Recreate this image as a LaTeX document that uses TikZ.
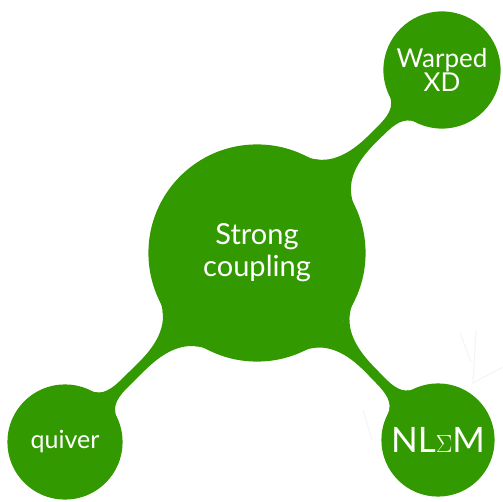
\documentclass[tikz,border=0pt]{standalone}
\usepackage{fontspec}
\setmainfont{Lato}
\usetikzlibrary{mindmap}
\definecolor{mmgreen}{RGB}{51,153,0}
\begin{document}
\begin{tikzpicture}[x=1pt,y=-1pt,mindmap,
  cnode/.style={concept, concept color=mmgreen, text=white, inner sep=0pt, align=center, text width=},
  faint/.style={draw=gray!8, line width=1.2pt},
  bar/.style={line width=9pt, circle connection bar switch color=from (mmgreen) to (mmgreen)}]
\useasboundingbox (0,0) rectangle (503,502);
% faint background strokes
\draw[faint] (476,330) -- (473,383) -- (503,367);
\draw[faint] (460,333) -- (471,362);
\draw[faint] (363,410) -- (372,440);
% concepts
\node[cnode, minimum size=216pt, font=\fontsize{29}{32}\selectfont] (main) at (257,253) {Strong\\coupling};
\node[cnode, minimum size=116pt, font=\fontsize{26}{23}\selectfont] (warp) at (442,70) {Warped\\XD};
\node[cnode, minimum size=114pt, font=\fontsize{25}{24}\selectfont] (quiv) at (65,442) {quiver};
\node[cnode, minimum size=112pt, font=\fontsize{35}{32}\selectfont] (nlsm) at (438,440) {NL$\Sigma$M};
% connectors
\path (main) to[bar] (warp);
\path (main) to[bar] (quiv);
\path (main) to[bar] (nlsm);
\end{tikzpicture}
\end{document}
